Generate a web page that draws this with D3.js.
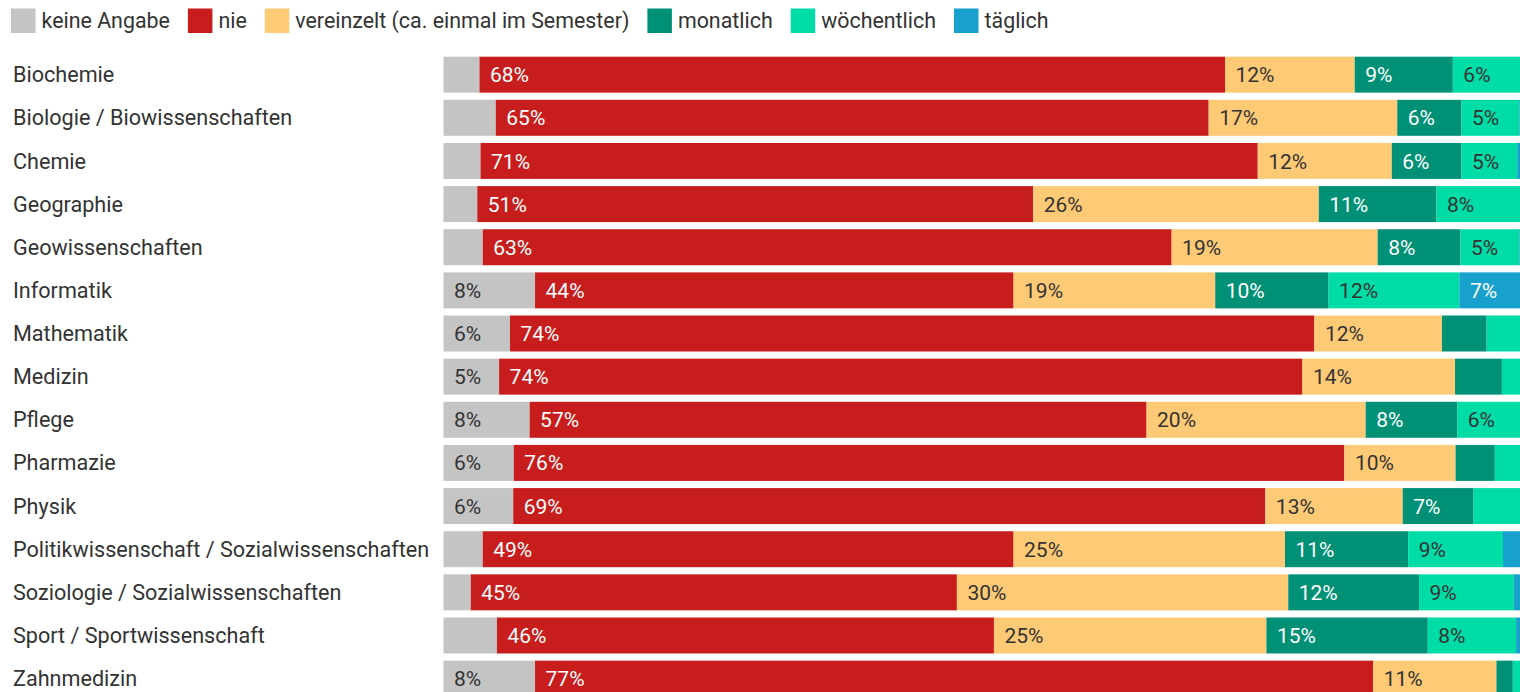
<!DOCTYPE html>
<html><head><meta charset="utf-8">
<script src="https://cdn.jsdelivr.net/npm/d3@7"></script>
<style>
html,body{margin:0;padding:0;background:#fff;overflow:hidden;}
svg{display:block;font-family:Roboto,"Noto Sans",sans-serif;}
</style></head>
<body><svg id="chart" width="1520" height="692"></svg>
<script>
const categories = ["Biochemie","Biologie / Biowissenschaften","Chemie","Geographie","Geowissenschaften","Informatik","Mathematik","Medizin","Pflege","Pharmazie","Physik","Politikwissenschaft / Sozialwissenschaften","Soziologie / Sozialwissenschaften","Sport / Sportwissenschaft","Zahnmedizin"];
const seriesNames = ["keine Angabe","nie","vereinzelt (ca. einmal im Semester)","monatlich","wöchentlich","täglich"];
const keineAngabe  = [3.3,4.8,3.4,3.1,3.6,8.4,6.1,5.1,7.9,6.45,6.4,3.6,2.5,4.9,8.4];
const nie          = [68.4,65.4,71.3,51.0,63.2,43.9,73.8,73.7,56.6,76.2,69.0,48.7,44.6,45.6,76.9];
const vereinzelt   = [11.9,17.3,12.3,26.2,18.9,18.5,11.7,14.0,20.1,10.2,12.6,24.9,30.4,25.0,11.3];
const monatlich    = [9.0,5.9,6.4,10.8,7.6,10.4,4.1,4.3,8.4,3.6,6.5,11.3,12.0,14.8,1.5];
const woechentlich = [6.3,5.3,5.1,8.4,5.4,12.0,3.5,2.2,6.2,3.0,4.5,8.7,8.7,8.1,1.5];
const taeglich     = [1.1,1.3,1.5,0.5,1.3,6.8,0.8,0.7,0.8,0.55,1.0,2.8,1.8,1.6,0.4];
const colors = ["#c4c4c4","#c71e1d","#ffca76","#009076","#00dca6","#18a1cd"];
const labelColors = ["#333","#fff","#333","#fff","#333","#fff"];

const seriesValues = [keineAngabe,nie,vereinzelt,monatlich,woechentlich,taeglich];
const table = categories.map((c,i)=>{
  const row = {category:c};
  seriesNames.forEach((s,j)=>row[s]=seriesValues[j][i]);
  return row;
});

const svg = d3.select("#chart");
const x = d3.scaleLinear().domain([0,100]).range([443.5,1533.5]);
const y = d3.scaleBand().domain(categories).range([53.1,700.2]).paddingInner(0.166).paddingOuter(0.083);
const color = d3.scaleOrdinal().domain(seriesNames).range(colors);
const lblColor = d3.scaleOrdinal().domain(seriesNames).range(labelColors);

const stack = d3.stack().keys(seriesNames)(table);

// legend
const legend = svg.append("g");
let lx = 11;
seriesNames.forEach((s)=>{
  legend.append("rect").attr("x",lx).attr("y",8.5).attr("width",24.5).attr("height",24.5).attr("fill",color(s));
  const t = legend.append("text").attr("x",lx+30.5).attr("y",27.5).attr("font-size",21.4).attr("fill","#333").text(s);
  lx = lx + 30.5 + t.node().getComputedTextLength() + 18;
});

// category labels
svg.append("g").selectAll("text").data(categories).join("text")
  .attr("x",13).attr("y",d=>y(d)+y.bandwidth()/2).attr("dy","0.35em")
  .attr("font-size",21.6).attr("fill","#333").text(d=>d);

// bars
const layers = svg.append("g").selectAll("g").data(stack).join("g").attr("fill",d=>color(d.key));
layers.selectAll("rect").data(d=>d).join("rect")
  .attr("x",d=>x(d[0])).attr("width",d=>x(d[1])-x(d[0]))
  .attr("y",d=>y(d.data.category)).attr("height",y.bandwidth());

// value labels
const lab = svg.append("g");
stack.forEach(layer=>{
  layer.forEach(d=>{
    const v = d[1]-d[0];
    if (v >= 5) {
      lab.append("text").attr("x",x(d[0])+10.5).attr("y",y(d.data.category)+y.bandwidth()/2).attr("dy","0.36em")
        .attr("font-size",21).attr("fill",lblColor(layer.key)).text(Math.round(d.data[layer.key])+"%");
    }
  });
});
</script></body></html>
